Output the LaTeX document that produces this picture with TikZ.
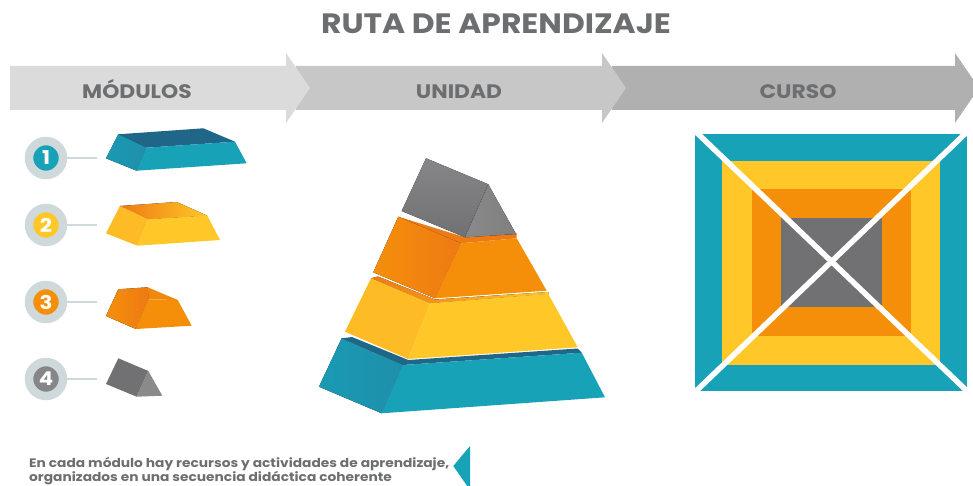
\documentclass[tikz,border=0pt]{standalone}
\usepackage{fontspec}
\setmainfont{Poppins}[FakeStretch=1.12]
\definecolor{teal1}{HTML}{17A2B8}
\definecolor{teal2}{HTML}{1F8FAB}
\definecolor{tealdk}{HTML}{1F6688}
\definecolor{yel1}{HTML}{FFC727}
\definecolor{yel2}{HTML}{FDBB26}
\definecolor{org1}{HTML}{F58F0A}
\definecolor{org2}{HTML}{EE7A14}
\definecolor{gry1}{HTML}{717072}
\definecolor{gry2}{HTML}{8A8A8A}
\definecolor{txt}{HTML}{6D6E70}
\definecolor{ring}{HTML}{CFD8DB}
\tikzset{
  ttl/.style={font=\bfseries\fontsize{28}{28}\selectfont,text=txt,inner sep=0pt},
  hdr/.style={font=\bfseries\fontsize{19.5}{19.5}\selectfont,text=txt,inner sep=0pt,anchor=base},
  badge/.style={circle,draw=ring,line width=8.5pt,minimum size=34pt,inner sep=0pt,text=white,font=\bfseries\fontsize{19}{19}\selectfont},
  tie/.style={draw=ring,line width=1.6pt},
  crossl/.style={draw=white,line width=5.5pt}
}
\begin{document}
\begin{tikzpicture}[x=1pt,y=-1pt]
\useasboundingbox (0,0) rectangle (973,486);
\clip (0,0) rectangle (973,486);
% title
\node[ttl] (title) at (496,24) {RUTA DE APRENDIZAJE};
% band
\fill[fill=black!31] (612,66) -- (955,66) -- (955,53) -- (979,88) -- (955,123) -- (955,110) -- (612,110) -- cycle;
\fill[fill=black!22] (296,66) -- (602,66) -- (602,53) -- (626,88) -- (602,123) -- (602,110) -- (296,110) -- cycle;
\fill[fill=black!14] (10,66) -- (286,66) -- (286,53) -- (310,88) -- (286,123) -- (286,110) -- (10,110) -- cycle;
\node[hdr] (m) at (137,99) {MÓDULOS};
\node[hdr] (u) at (459,99) {UNIDAD};
\node[hdr] (c) at (798,99) {CURSO};
% badges
\node[badge,fill=teal1] (b1) at (46,158) {1};
\node[badge,fill=yel1] (b2) at (46,225) {2};
\node[badge,fill=org1] (b3) at (46,302) {3};
\node[badge,fill=gry1!85] (b4) at (46,379) {4};
\coordinate (e1) at (97,158);
\coordinate (e2) at (97,225);
\coordinate (e3) at (97,302);
\coordinate (e4) at (97,379);
\foreach \i in {1,2,3,4}{\draw[tie] (b\i) -- (e\i);}
% module 1
\fill[tealdk] (118.3,134.3) -- (203.3,128.3) -- (235,141.7) -- (146.7,147.7) -- cycle;
\fill[left color=teal1!60!teal2,right color=teal2] (118.3,134.3) -- (146.7,147.7) -- (136.7,170.7) -- (106,158.3) -- cycle;
\fill[teal1] (146.7,147.7) -- (235,141.7) -- (246.7,163.3) -- (136.7,170.7) -- cycle;
% module 2
\fill[left color=org2,right color=yel1] (120,206) -- (176.7,202) -- (207.3,215.7) -- (148.3,219.3) -- cycle;
\fill[yel2] (120,206) -- (148.3,219.3) -- (137.3,245.7) -- (106,233.3) -- cycle;
\fill[yel1] (148.3,219.3) -- (207.3,215.7) -- (220,240) -- (137.3,245.7) -- cycle;
% module 3
\fill[org1!60!org2] (147.7,287.3) -- (177.7,300) -- (148.3,299.3) -- cycle;
\fill[left color=org1,middle color=org1,right color=org2] (118.3,289.3) -- (147.7,287.3) -- (148.3,299.3) -- (136,329) -- (106,316) -- cycle;
\fill[org1] (148.3,299.3) -- (177.7,300) -- (191.7,325.7) -- (136,329) -- cycle;
% module 4
\fill[gry1] (118.3,358.3) -- (148.3,371) -- (136.7,396.7) -- (106,384) -- cycle;
\fill[gry2] (148.3,371) -- (162.3,395.7) -- (136.7,396.7) -- cycle;
% pyramid: teal
\fill[tealdk] (341.7,338.3) -- (352,337) -- (408.3,360) -- (577.7,348.5) -- (581.7,352.7) -- (403.3,365) -- cycle;
\fill[left color=teal1!60!teal2,right color=teal2] (341.7,338.3) -- (403.3,365) -- (381.7,413.3) -- (319,386.7) -- cycle;
\fill[teal1] (403.3,365) -- (581.7,352.7) -- (605,397.3) -- (381.7,413.3) -- cycle;
% yellow
\fill[left color=org2,middle color=org1,right color=yel1] (371,278.3) -- (378,276.5) -- (435,299.5) -- (548.3,292) -- (548.3,294) -- (430,303.3) -- cycle;
\fill[yel2] (371,278.3) -- (430,303.3) -- (408.3,359) -- (345,331.7) -- cycle;
\fill[yel1] (430,303.3) -- (548.3,294) -- (577.7,347.3) -- (408.3,359) -- cycle;
% orange
\fill[org2] (398.3,216.7) -- (465,237.3) -- (516.7,233) -- (516.7,238.3) -- (461,243.3) -- cycle;
\fill[left color=org1,middle color=org1,right color=org2] (398.3,216.7) -- (461,243.3) -- (435,298.3) -- (373.3,272.3) -- cycle;
\fill[org1] (461,243.3) -- (516.7,238.3) -- (546.7,290.7) -- (435,298.3) -- cycle;
% grey
\fill[top color=gry1!85!white,bottom color=gry1] (426,158.3) -- (488.3,184.3) -- (465,237.3) -- (401.7,211) -- cycle;
\fill[left color=gry2,right color=gry1!90!white] (488.3,184.3) -- (516,234) -- (465,237.3) -- cycle;
% course
\fill[teal1] (695,134) rectangle (967.3,390.7);
\fill[yel1] (722.3,160.7) rectangle (940,365);
\fill[org1] (751.7,189.3) rectangle (910.7,335.7);
\fill[gry1] (780.7,217.7) rectangle (881.7,307.3);
\coordinate (tl) at (695,131);
\coordinate (br) at (968,392);
\coordinate (tr) at (968,131);
\coordinate (bl) at (695,392);
\draw[crossl] (tl) -- (br);
\draw[crossl] (tr) -- (bl);
% note
\node[anchor=north west,align=left,inner sep=0pt,text=txt,font=\bfseries\fontsize{12.3}{14.5}\selectfont] (note) at (29,457) {En cada módulo hay recursos y actividades de aprendizaje,\\organizados en una secuencia didáctica coherente};
\fill[teal1] (453.3,466) -- (470,446) -- (470,490) -- cycle;
\end{tikzpicture}
\end{document}
